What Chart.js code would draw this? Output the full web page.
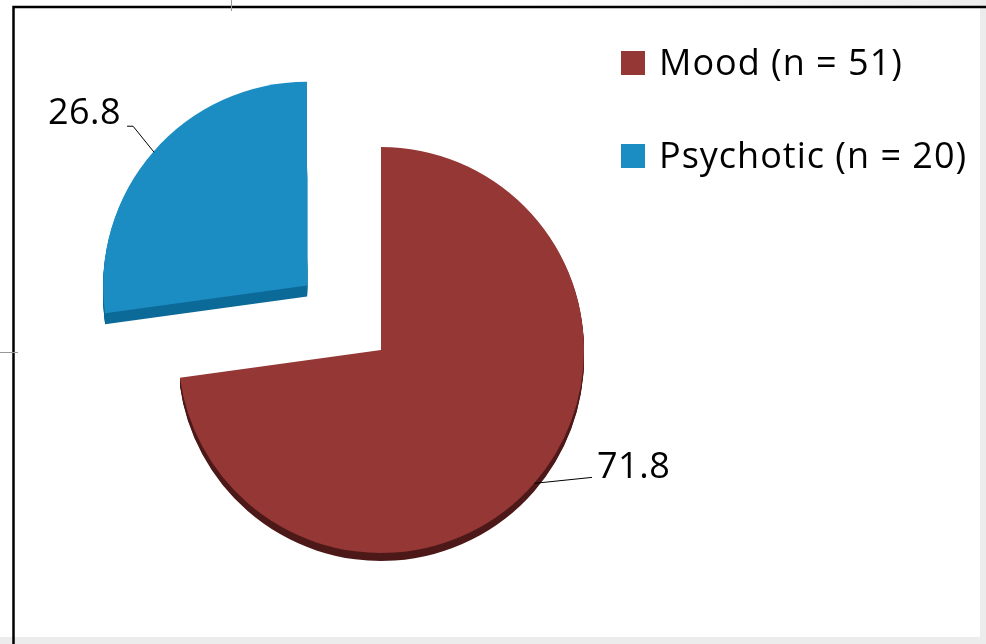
<!DOCTYPE html>
<html>
<head>
<meta charset="utf-8">
<script src="https://cdn.jsdelivr.net/npm/chart.js@4.4.0/dist/chart.umd.min.js"></script>
<style>
  html, body { margin: 0; padding: 0; background: #fff; }
  #chart { display: block; }
</style>
</head>
<body>
<canvas id="chart" width="986" height="644"></canvas>
<script>
const categories = ['Mood (n = 51)', 'Psychotic (n = 20)'];
const percentages = [71.8, 26.8];
const sliceColors = ['#943735', '#1b8dc3'];
const sideColors = ['#4d1918', '#0c6a99'];
const sideDepth = [8, 11];
// chart.js v4 moves an arc by offset / 4
const explode = [0, 98 * 4];

const FONT = '"Open Sans", Lato, sans-serif';

// page frame, like the screenshot of the slide
const framePlugin = {
    id: 'frame',
    beforeDraw(chart) {
        const ctx = chart.ctx;
        ctx.save();
        ctx.fillStyle = '#ececec';
        ctx.fillRect(980, 0, 6, 644);
        ctx.fillRect(0, 637, 986, 7);
        const g = ctx.createLinearGradient(500, 0, 986, 0);
        g.addColorStop(0, '#ffffff');
        g.addColorStop(1, '#eeeeee');
        ctx.fillStyle = g;
        ctx.fillRect(14, 0, 966, 6);
        ctx.strokeStyle = '#000';
        ctx.lineWidth = 2.5;
        ctx.beginPath();
        ctx.moveTo(986, 7);
        ctx.lineTo(13.5, 7);
        ctx.lineTo(13.5, 644);
        ctx.stroke();
        ctx.strokeStyle = '#999';
        ctx.lineWidth = 1;
        ctx.beginPath();
        ctx.moveTo(231.5, 0);
        ctx.lineTo(231.5, 11);
        ctx.moveTo(0, 352.5);
        ctx.lineTo(18, 352.5);
        ctx.stroke();
        ctx.restore();
    }
};

// darker copy below each slice for the 3D edge
const sidePlugin = {
    id: 'sides',
    beforeDatasetsDraw(chart) {
        const ctx = chart.ctx;
        const meta = chart.getDatasetMeta(0);
        meta.data.forEach((arc, i) => {
            const saved = arc.options;
            arc.options = Object.assign({}, saved, { backgroundColor: sideColors[i], borderWidth: 0 });
            for (let d = 1; d <= sideDepth[i]; d++) {
                ctx.save();
                ctx.translate(0, d);
                arc.draw(ctx);
                ctx.restore();
            }
            arc.options = saved;
        });
    }
};

// value labels with leader lines + legend on the right
const labelPlugin = {
    id: 'labels',
    afterDatasetsDraw(chart) {
        const ctx = chart.ctx;
        const meta = chart.getDatasetMeta(0);
        ctx.save();
        ctx.font = '36px ' + FONT;
        ctx.letterSpacing = '0.5px';
        ctx.fillStyle = '#000';
        ctx.strokeStyle = '#000';
        ctx.lineWidth = 1;
        ctx.textBaseline = 'alphabetic';
        meta.data.forEach((arc, i) => {
            const p = arc.getProps(['x', 'y', 'startAngle', 'endAngle', 'outerRadius']);
            const mid = (p.startAngle + p.endAngle) / 2;
            const shift = (arc.options.offset || 0) / 4;
            const ax = p.x + Math.cos(mid) * (p.outerRadius + shift);
            const ay = p.y + Math.sin(mid) * (p.outerRadius + shift);
            const text = percentages[i].toFixed(1);
            ctx.beginPath();
            ctx.moveTo(ax, ay);
            if (Math.cos(mid) >= 0) {
                ctx.lineTo(ax + 58, ay - 6);
                ctx.stroke();
                ctx.textAlign = 'left';
                ctx.fillText(text, ax + 63, ay - 5);
            } else {
                ctx.lineTo(ax - 21, ay - 26);
                ctx.lineTo(ax - 27, ay - 26);
                ctx.stroke();
                ctx.textAlign = 'right';
                ctx.fillText(text, ax - 33, ay - 28);
            }
        });

        // legend
        ctx.textAlign = 'left';
        ctx.letterSpacing = '1px';
        categories.forEach((name, i) => {
            const y = 75 + i * 93;
            ctx.fillStyle = sliceColors[i];
            ctx.fillRect(621, y - 24, 24, 24);
            ctx.fillStyle = '#000';
            ctx.fillText(name, 659, y);
        });
        ctx.restore();
    }
};

new Chart(document.getElementById('chart').getContext('2d'), {
    type: 'pie',
    data: {
        labels: categories,
        datasets: [{
            data: percentages,
            backgroundColor: sliceColors,
            borderWidth: 0,
            offset: explode,
            radius: 203,
        }],
    },
    options: {
        responsive: false,
        animation: false,
        events: [],
        layout: {
            padding: { left: 0, right: 224, top: 56, bottom: 0 },
        },
        plugins: {
            legend: { display: false },
            tooltip: { enabled: false },
        },
    },
    plugins: [framePlugin, sidePlugin, labelPlugin],
});
</script>
</body>
</html>
